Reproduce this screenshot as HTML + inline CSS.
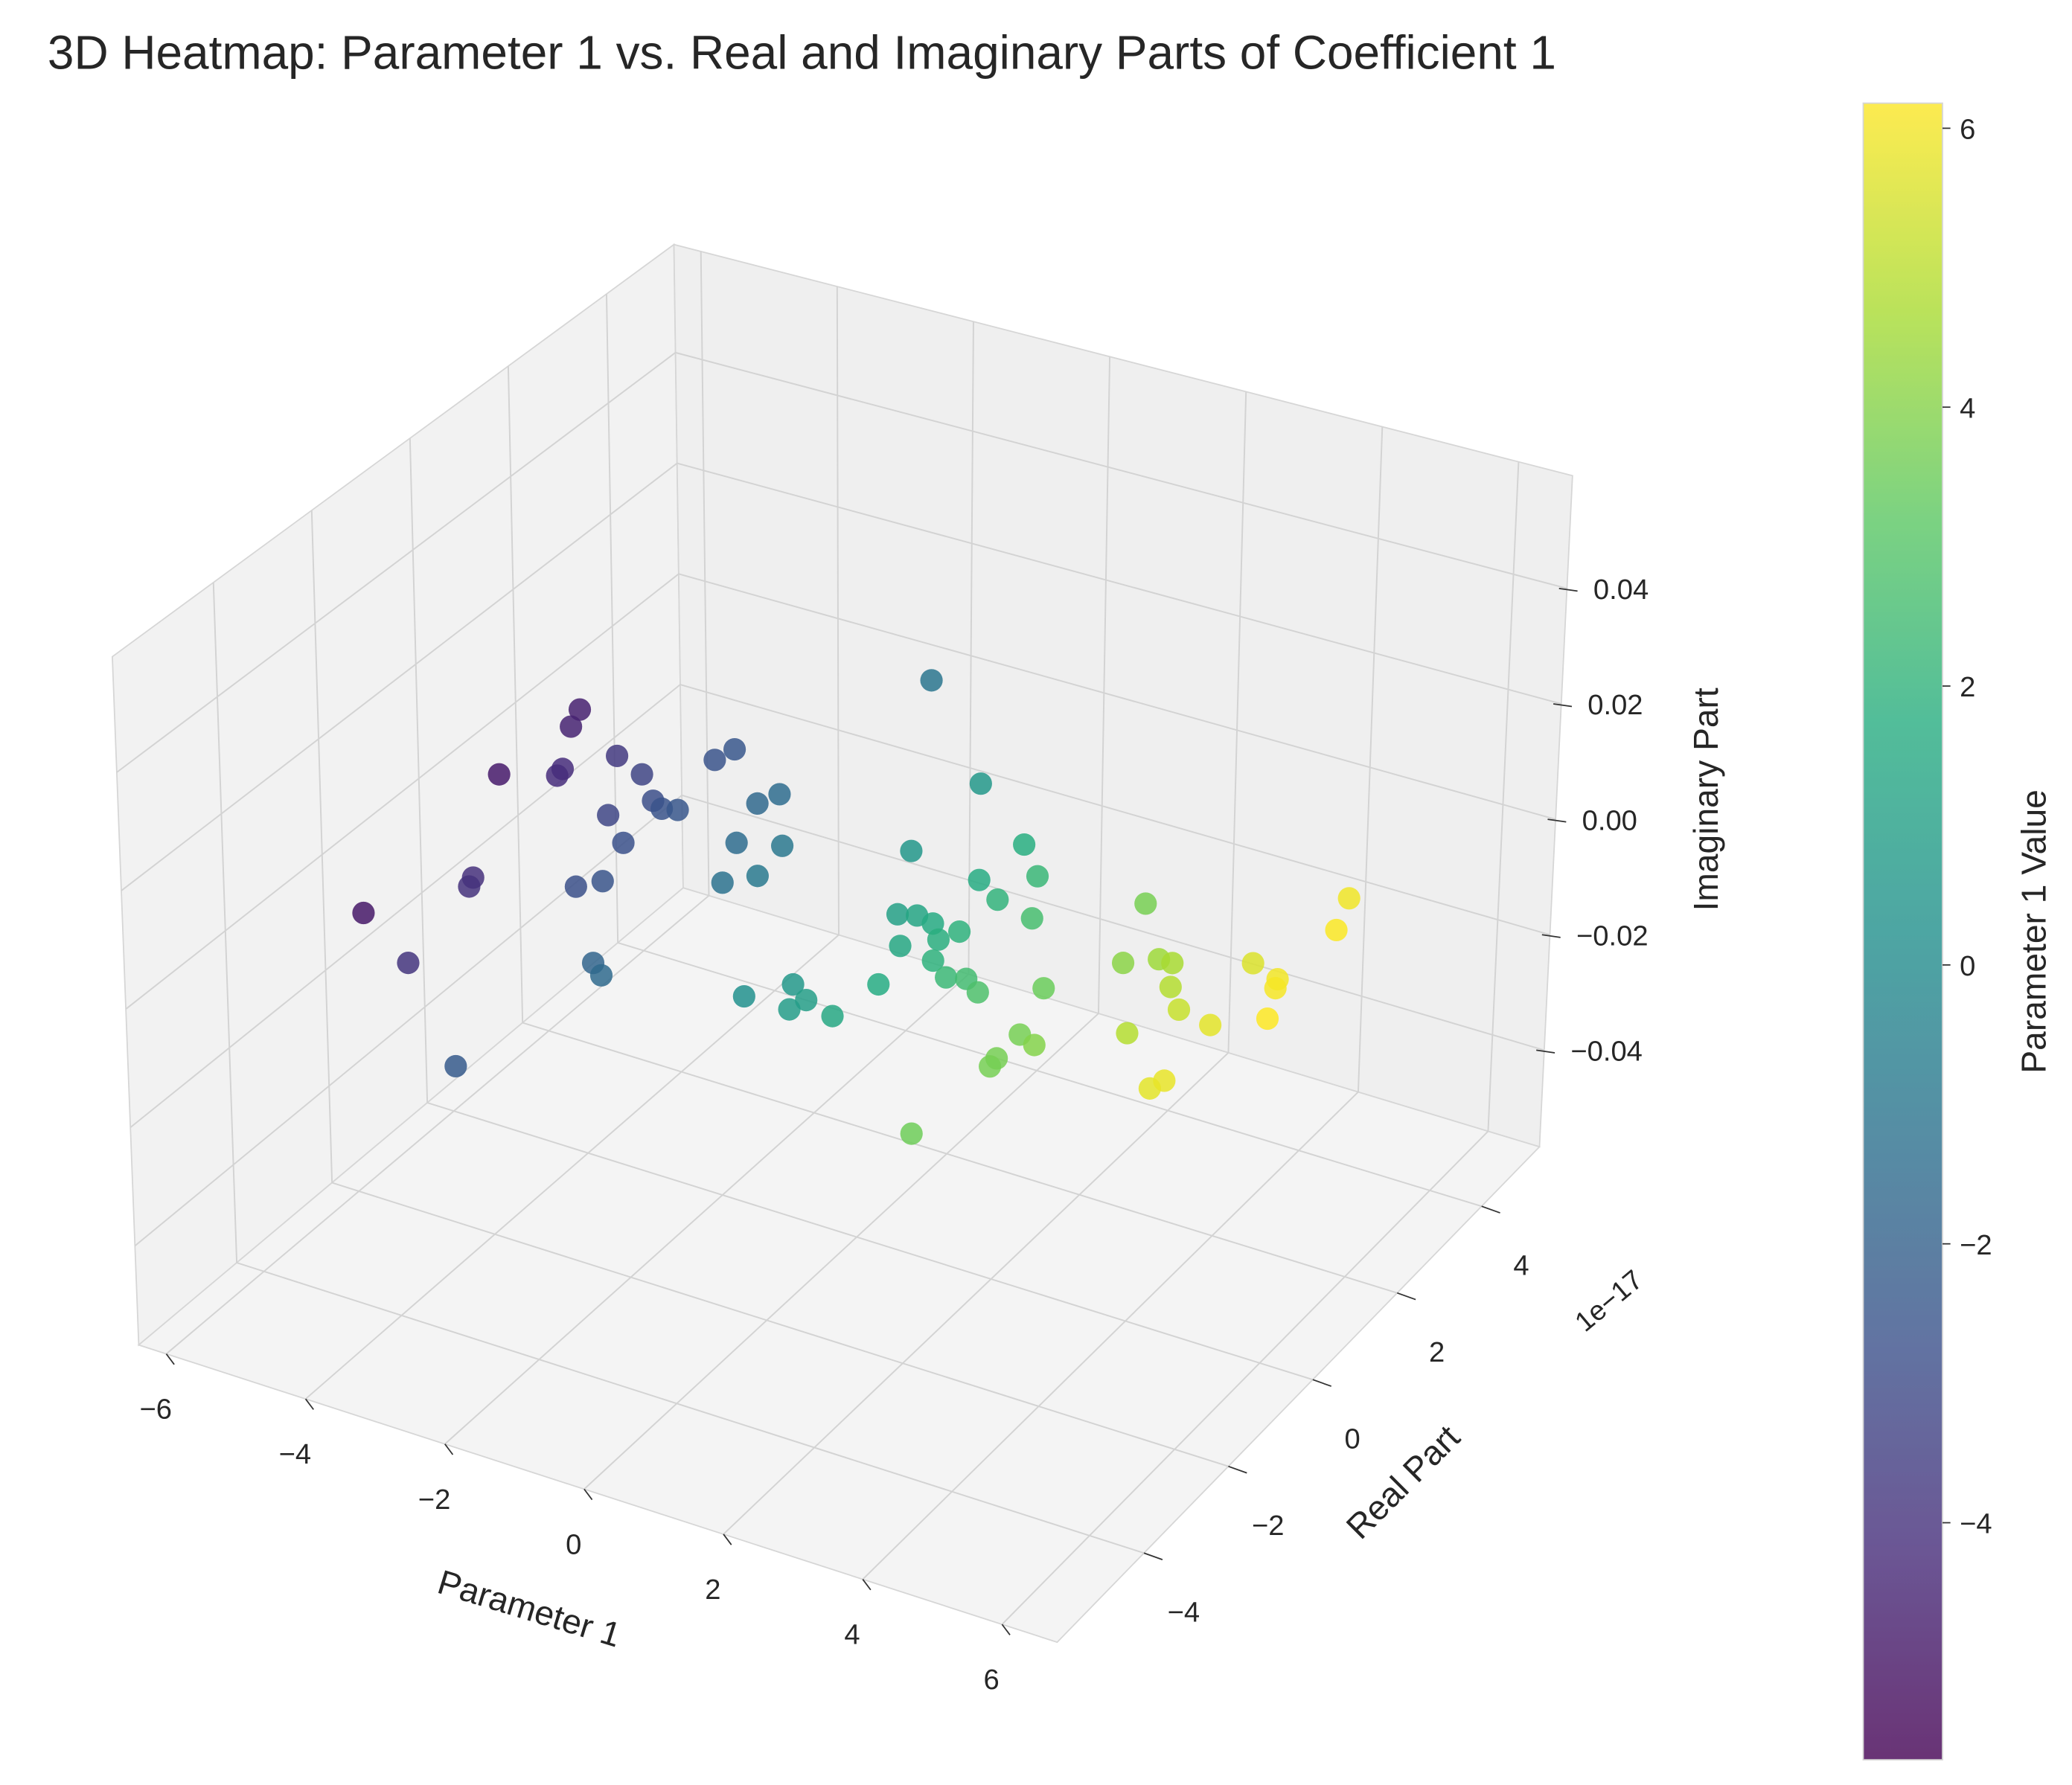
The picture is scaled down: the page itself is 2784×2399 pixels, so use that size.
<!DOCTYPE html>
<html><head><meta charset="utf-8">
<style>
html,body{margin:0;padding:0;background:#fff;}
svg{display:block;font-family:"Liberation Sans",sans-serif;}
</style></head>
<body>
<svg id="chart" width="2784" height="2399" viewBox="0 0 1568 1351" xmlns="http://www.w3.org/2000/svg">
<defs>
<linearGradient id="viridis" x1="0" y1="1" x2="0" y2="0">
<stop offset="0" stop-color="#440154"/><stop offset="0.125" stop-color="#472c7a"/>
<stop offset="0.25" stop-color="#3b518b"/><stop offset="0.375" stop-color="#2c718e"/>
<stop offset="0.5" stop-color="#21908d"/><stop offset="0.625" stop-color="#27ad81"/>
<stop offset="0.75" stop-color="#5cc863"/><stop offset="0.875" stop-color="#aadc32"/>
<stop offset="1" stop-color="#fde725"/>
</linearGradient>
</defs>
<text x="36" y="52" font-size="36" fill="#262626">3D Heatmap: Parameter 1 vs. Real and Imaginary Parts of Coefficient 1</text>
<g id="panes">
<polygon points="85,497 510,185 517,672 105,1018" fill="#f2f2f2" stroke="#d6d6d6" stroke-width="1"/>
<polygon points="510,185 1190,360 1165,868 517,672" fill="#efefef" stroke="#d6d6d6" stroke-width="1"/>
<polygon points="105,1018 517,672 1165,868 800,1243" fill="#f4f4f4" stroke="#d6d6d6" stroke-width="1"/>
</g>
<g id="grid"></g>
<g id="ticks"></g>
<g id="points"></g>
<text x="398" y="1226" font-size="26" fill="#262626" text-anchor="middle" transform="rotate(17 398 1226)">Parameter 1</text>
<text x="1068" y="1128" font-size="26" fill="#262626" text-anchor="middle" transform="rotate(-45 1068 1128)">Real Part</text>
<text x="1222" y="990" font-size="21" fill="#262626" text-anchor="middle" transform="rotate(-40 1222 990)">1e−17</text>
<text x="1300" y="605" font-size="26" fill="#262626" text-anchor="middle" transform="rotate(-90 1300 605)">Imaginary Part</text>
<rect x="1410" y="78" width="60" height="1254" fill="url(#viridis)" opacity="0.8" stroke="#ccc"/>
<g id="cbticks"></g>
<text x="1548" y="705" font-size="26" fill="#262626" text-anchor="middle" transform="rotate(-90 1548 705)">Parameter 1 Value</text>
</svg>
<script>
const param = [-4.60,-4.52,-4.82,-4.17,-4.16,-3.70,-3.23,-2.83,-2.65,-2.46,-3.18,-2.72,-2.57,-2.46,-1.64,-1.49,-1.46,-0.92,-1.20,-0.88,-4.03,-3.98,-2.79,-2.55,-4.88,-3.86,-1.80,-1.58,-2.25,-0.99,0.64,0.57,1.76,1.63,2.24,2.04,2.62,1.08,1.31,1.57,1.95,1.80,1.44,1.96,2.28,2.52,2.79,1.60,0.65,0.96,0.87,1.42,0.23,3.48,3.73,4.10,4.46,4.65,4.88,5.21,4.88,3.70,3.97,3.69,3.70,3.53,5.71,5.79,5.72,5.55,5.99,6.06,6.29,5.94,6.13];
const realPart = [2.66,2.31,1.06,1.52,1.37,2.06,1.88,1.48,1.39,1.46,0.97,0.57,2.55,2.85,2.03,2.32,1.22,1.43,0.44,0.76,-0.90,-1.08,-0.47,-0.22,-2.15,-2.77,-1.71,-1.88,-4.31,5.19,3.66,2.08,2.84,1.96,2.36,1.72,1.59,0.89,0.98,0.93,0.94,0.68,0.35,0.28,0.06,0.15,-0.02,-0.45,-0.94,-1.14,-1.40,-1.27,-1.43,0.43,2.50,1.33,1.60,1.61,1.18,0.83,0.12,-0.52,-0.62,-1.07,-1.25,-2.88,-0.72,-0.50,0.74,2.07,1.93,1.76,1.18,3.76,3.13];
const imagPart = param.map(()=>0);
const xTicks = [-6,-4,-2,0,2,4,6];
const yTicks = [-4,-2,0,2,4];
const zTicks = [-0.04,-0.02,0.00,0.02,0.04];
const zTickLabels = ["−0.04","−0.02","0.00","0.02","0.04"];
const cbTicks = [-4,-2,0,2,4,6];
const cbMin = -5.7, cbMax = 6.18;

const NS="http://www.w3.org/2000/svg";
function mk(tag, attrs, parent){const e=document.createElementNS(NS,tag);for(const k in attrs)e.setAttribute(k,attrs[k]);parent.appendChild(e);return e;}
function lerp(a,b,f){return [a[0]+(b[0]-a[0])*f,a[1]+(b[1]-a[1])*f];}
function proj(x,y,z){return [595.5+52*x+31*y, 703+17*x-33*y-4375*z];}
const fx=t=>0.03+(t+6)/12*0.91, fy=r=>0.18+(r+4)/8*0.70, fz=z=>0.488+z*8.6;
const F0=[105,1018],F1=[800,1243],B0=[517,672],B1=[1165,868],LT=[85,497],BT=[510,185],RT=[1190,360];
const grid=document.getElementById('grid'), ticks=document.getElementById('ticks');
const gs={stroke:"#d3d3d3","stroke-width":1.1,fill:"none"};
xTicks.forEach((t,i)=>{const f=fx(t);const a=lerp(F0,F1,f),b=lerp(B0,B1,f),c=lerp(BT,RT,f);
 const l=mk('polyline',Object.assign({points:`${a} ${b} ${c}`},gs),grid);
 
 
 const tk=mk('line',{x1:a[0],y1:a[1],x2:a[0]+6,y2:a[1]+8,stroke:"#333","stroke-width":1},ticks);
 
 
 const tx=mk('text',{x:a[0]-8,y:a[1]+49,"font-size":21.5,fill:"#262626","text-anchor":"middle"},ticks);
 tx.textContent=String(t).replace('-','−');
 
 
});
yTicks.forEach(r=>{const f=fy(r);const a=lerp(F0,B0,f),b=lerp(F1,B1,f),c=lerp(LT,BT,f);
 const l=mk('polyline',Object.assign({points:`${c} ${a} ${b}`},gs),grid);
 
 
 const tk=mk('line',{x1:b[0],y1:b[1],x2:b[0]+14,y2:b[1]+5,stroke:"#333","stroke-width":1},ticks);
 
 
 const tx=mk('text',{x:b[0]+30,y:b[1]+52,"font-size":21.5,fill:"#262626","text-anchor":"middle"},ticks);
 tx.textContent=String(r).replace('-','−');
 
 
});
zTicks.forEach((z,i)=>{const f=fz(z);const a=lerp(F0,LT,f),b=lerp(B0,BT,f),c=lerp(B1,RT,f);
 const l=mk('polyline',Object.assign({points:`${a} ${b} ${c}`},gs),grid);
 
 
 const tk=mk('line',{x1:c[0]-6,y1:c[1],x2:c[0]+8,y2:c[1]+2,stroke:"#333","stroke-width":1},ticks);
 
 
 const tx=mk('text',{x:c[0]+20,y:c[1]+8,"font-size":21.5,fill:"#262626"},ticks);
 tx.textContent=zTickLabels[i];
 
 
});
const vstops=[[68,1,84],[71,44,122],[59,81,139],[44,113,142],[33,144,141],[39,173,129],[92,200,99],[170,220,50],[253,231,37]];
function viridis(v){let t=Math.max(0,Math.min(1,(v-cbMin)/(cbMax-cbMin)))*8;const i=Math.min(7,Math.floor(t)),f=t-i;
 const a=vstops[i],b=vstops[i+1];return `rgb(${a.map((c,k)=>Math.round(c+(b[k]-c)*f)).join(',')})`;}
const pts=document.getElementById('points');
param.forEach((p,i)=>{const s=proj(p,realPart[i],imagPart[i]);
 const c=mk('circle',{cx:s[0],cy:s[1],r:8.5,fill:viridis(p),"fill-opacity":0.85},pts);
 
 
});
const cb=document.getElementById('cbticks');
cbTicks.forEach(v=>{const y=1332-(v-cbMin)/(cbMax-cbMin)*1254;
 const tk=mk('line',{x1:1470,y1:y,x2:1476,y2:y,stroke:"#333","stroke-width":1},cb);
 
 
 const tx=mk('text',{x:1483,y:y+8,"font-size":21.5,fill:"#262626"},cb);
 tx.textContent=String(v).replace('-','−');
 
 
});
</script>
</body></html>
